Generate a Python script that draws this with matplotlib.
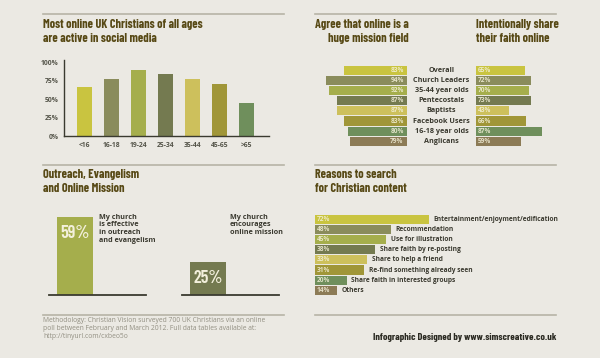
import matplotlib.pyplot as plt
import numpy as np

# ---- data ----
age_groups = ['<16', '16-18', '19-24', '25-34', '35-44', '45-65', '>65']
social_active = [67, 77, 89, 84, 77, 71, 45]

groups = ['Overall', 'Church Leaders', '35-44 year olds', 'Pentecostals',
          'Baptists', 'Facebook Users', '16-18 year olds', 'Anglicans']
mission_field = [83, 94, 92, 87, 87, 83, 80, 79]
share_faith = [65, 72, 70, 73, 43, 66, 87, 59]

outreach_vals = [59, 25]
outreach_labels = ['My church\nis effective\nin outreach\nand evangelism',
                   'My church\nencourages\nonline mission']

reasons = ['Entertainment/enjoyment/edification', 'Recommendation',
           'Use for illustration', 'Share faith by re-posting',
           'Share to help a friend', 'Re-find something already seen',
           'Share faith in interested groups', 'Others']
reason_vals = [72, 48, 45, 38, 33, 31, 20, 14]

palette = ['#c9c440', '#8a8c5c', '#a5ae4c', '#747a50',
           '#cdc05c', '#a09638', '#6f8f5c', '#8c7b56']

BG = '#ebe9e3'
TITLE_C = '#574915'
TEXT_C = '#3b3a30'
COND = ['Barlow Condensed', 'Roboto Condensed', 'DejaVu Sans']
BODY = ['Open Sans', 'DejaVu Sans']

W, H = 600, 358
fig = plt.figure(figsize=(6, 3.58), dpi=100, facecolor=BG)


def px_axes(x0, y0, x1, y1):
    ax = fig.add_axes([x0 / W, 1 - y1 / H, (x1 - x0) / W, (y1 - y0) / H])
    ax.set_facecolor('none')
    for s in ax.spines.values():
        s.set_visible(False)
    ax.set_xticks([])
    ax.set_yticks([])
    return ax


def ftext(x, y, s, **kw):
    fig.text(x / W, 1 - y / H, s, **kw)


def hline(x0, x1, y, color='#b7b4a6', lw=1.2):
    fig.add_artist(plt.Line2D([x0 / W, x1 / W], [1 - y / H, 1 - y / H],
                              color=color, lw=lw))


# separators
for y in (14, 165, 315):
    hline(43, 284, y)
    hline(315, 556, y)

title_kw = dict(family=COND, weight=700, size=8.8, color=TITLE_C, va='center')
pct_kw = dict(va='center', size=4.7, family=BODY, weight='bold',
              color='#f4f1da', alpha=0.85)

# ---- panel 1: social media by age ----
ftext(43, 25, 'Most online UK Christians of all ages', **title_kw)
ftext(43, 38.5, 'are active in social media', **title_kw)

ax1 = px_axes(64, 60, 269, 136)
x = np.arange(len(age_groups))
ax1.bar(x, social_active, width=0.55, color=palette[:7])
ax1.set_xlim(-0.76, 6.83)
ax1.set_ylim(0, 103)
for side in ('left', 'bottom'):
    ax1.spines[side].set_visible(True)
    ax1.spines[side].set_color('#3a3a30')
    ax1.spines[side].set_linewidth(1.0)
ax1.set_yticks([0, 25, 50, 75, 100])
ax1.set_yticklabels(['0%', '25%', '50%', '75%', '100%'])
ax1.set_xticks(x)
ax1.set_xticklabels(age_groups)
ax1.tick_params(length=0, labelsize=4.9, labelcolor='#55554a', pad=4)
for lab in ax1.get_xticklabels() + ax1.get_yticklabels():
    lab.set_family(BODY)
    lab.set_weight('bold')

# ---- panel 2: mission field vs share faith ----
ftext(409, 25, 'Agree that online is a', ha='right', **title_kw)
ftext(409, 38.5, 'huge mission field', ha='right', **title_kw)
ftext(476, 25, 'Intentionally share', ha='left', **title_kw)
ftext(476, 38.5, 'their faith online', ha='left', **title_kw)

rows = np.arange(len(groups))
axl = px_axes(300, 65, 407, 146.5)
axl.barh(rows, mission_field, height=0.9, color=palette)
axl.set_xlim(110.3, 43.4)
axl.set_ylim(len(groups) - 0.5, -0.5)
for i, v in enumerate(mission_field):
    axl.text(45.5, i, f'{v}%', ha='right', **pct_kw)

axr = px_axes(476, 65, 560, 146.5)
axr.barh(rows, share_faith, height=0.9, color=palette)
axr.set_xlim(0, 110.5)
axr.set_ylim(len(groups) - 0.5, -0.5)
for i, v in enumerate(share_faith):
    axr.text(2, i, f'{v}%', ha='left', **pct_kw)

axc = px_axes(407, 65, 476, 146.5)
axc.set_xlim(0, 1)
axc.set_ylim(len(groups) - 0.5, -0.5)
for i, g in enumerate(groups):
    axc.text(0.5, i, g, ha='center', va='center', size=5.2,
             family=BODY, weight='bold', color=TEXT_C)

# ---- panel 3: outreach ----
ftext(43, 175, 'Outreach, Evangelism', **title_kw)
ftext(43, 188.5, 'and Online Mission', **title_kw)

ax3 = px_axes(43, 200, 284, 296)
scale = 1.32
ax3.set_xlim(43, 284)
ax3.set_ylim(-1 / scale, 95 / scale)
bx = [75, 208]
ax3.bar(bx, outreach_vals, width=36, color=[palette[2], palette[3]])
ax3.plot([49, 146], [0, 0], color='#3a3a30', lw=1.3)
ax3.plot([182, 279], [0, 0], color='#3a3a30', lw=1.3)
for xx, v in zip(bx, outreach_vals):
    ax3.text(xx, v - 12.5, f'{v}%', ha='center', va='center', size=13,
             family=COND, weight=600, color='#f3f0dc')
ftext(99, 214, outreach_labels[0], ha='left', va='top', size=5.2,
      family=BODY, weight='bold', color=TEXT_C, linespacing=1.1)
ftext(230, 214, outreach_labels[1], ha='left', va='top', size=5.2,
      family=BODY, weight='bold', color=TEXT_C, linespacing=1.1)

# ---- panel 4: reasons ----
ftext(315, 175, 'Reasons to search', **title_kw)
ftext(315, 188.5, 'for Christian content', **title_kw)

ax4 = px_axes(315, 214, 560, 295.5)
ax4.barh(np.arange(len(reasons)), reason_vals, height=0.9, color=palette)
ax4.set_xlim(0, 245 / 1.58)
ax4.set_ylim(len(reasons) - 0.5, -0.5)
for i, (r, v) in enumerate(zip(reasons, reason_vals)):
    ax4.text(1.2, i, f'{v}%', ha='left', **pct_kw)
    ax4.text(v + 3, i, r, ha='left', va='center', size=4.8,
             family=BODY, weight='bold', color=TEXT_C)

# ---- footer ----
ftext(43, 328, 'Methodology: Christian Vision surveyed 700 UK Christians via an online\n'
      'poll between February and March 2012. Full data tables available at:\n'
      'http://tinyurl.com/cxbeo5o', ha='left', va='center', size=4.9,
      family=BODY, color='#928f82', linespacing=1.2)
ftext(556, 337, 'Infographic Designed by www.simscreative.co.uk', ha='right',
      va='center', size=7.3, family=COND, weight='bold', color='#2b2a22')

fig.savefig('out.png', dpi=100, facecolor=BG)
